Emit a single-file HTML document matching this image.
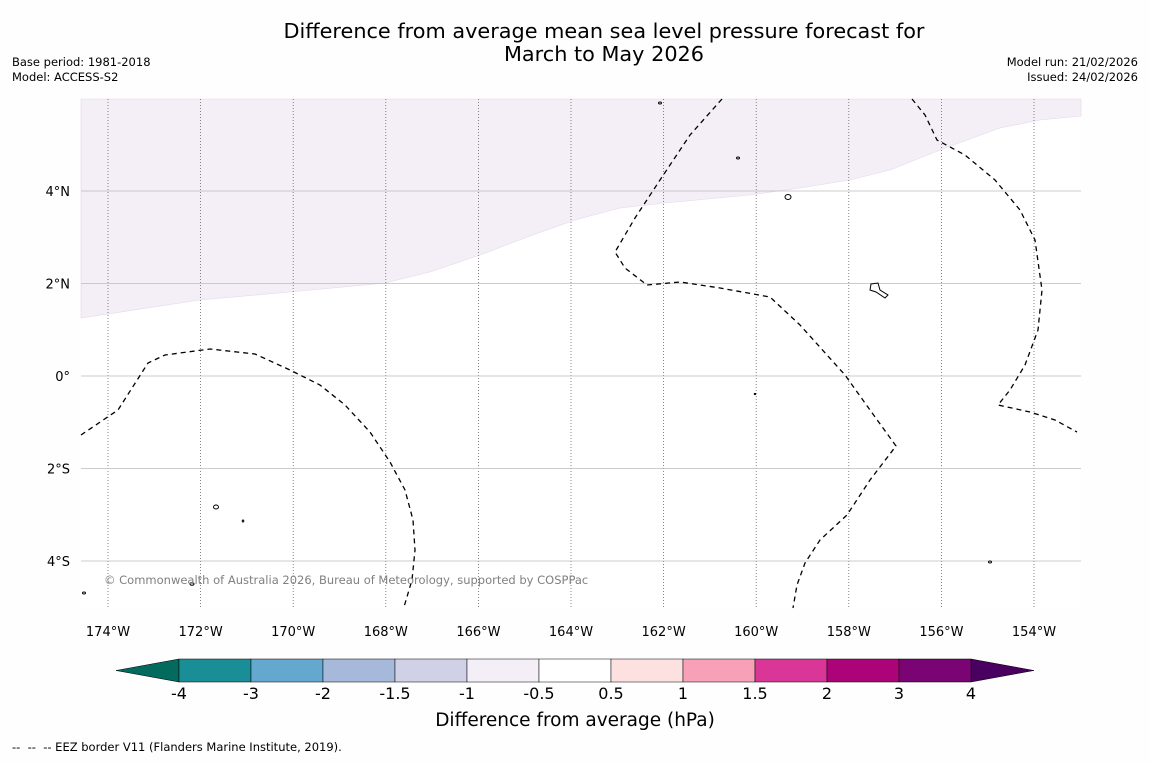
<!DOCTYPE html>
<html><head><meta charset="utf-8"><style>
body{margin:0;background:#fefefe;}
svg text{font-family:"DejaVu Sans","Liberation Sans",sans-serif;white-space:pre;}
</style></head><body>
<svg width="1150" height="758" xmlns="http://www.w3.org/2000/svg">
<rect width="1150" height="758" fill="#fefefe"/>
<text x="604" y="38" font-size="20.8" text-anchor="middle">Difference from average mean sea level pressure forecast for</text>
<text x="604" y="61" font-size="20.8" text-anchor="middle">March to May 2026</text>
<text x="12" y="66" font-size="11.5">Base period: 1981-2018</text>
<text x="12" y="81" font-size="11.5">Model: ACCESS-S2</text>
<text x="1138" y="66" font-size="11.5" text-anchor="end">Model run: 21/02/2026</text>
<text x="1138" y="81" font-size="11.5" text-anchor="end">Issued: 24/02/2026</text>
<g id="map">
<rect x="81" y="99" width="1000" height="509" fill="#ffffff"/>
<path fill="#f4eef6" stroke="#e4d8ea" stroke-width="0.6" d="M81,99 L1081,99 L1081,116 L1040,120 L1000,128 L940,150 L890,170 L850,180 L800,188 L750,195 L665,203 L620,208 L575,220 L530,236 L480,255 L430,272 L385,283 L290,292 L200,300 L81,318 Z"/>
<g id="grid"></g>
<path fill="none" stroke="#000" stroke-width="1.3" stroke-dasharray="5,4" d="M81,435 L118,410 L148,363 L165,355 L210,349 L255,354 L290,370 L320,385 L345,405 L370,432 L390,462 L405,490 L413,520 L415,550 L412,580 L404,607"/>
<path fill="none" stroke="#000" stroke-width="1.3" stroke-dasharray="5,4" d="M722,99 L690,135 L660,180 L635,218 L615,252 L625,268 L647,285 L680,282 L720,288 L770,297 L800,325 L845,375 L870,410 L896,446 L870,480 L847,515 L820,540 L805,563 L797,585 L793,608"/>
<path fill="none" stroke="#000" stroke-width="1.3" stroke-dasharray="5,4" d="M912,99 L925,115 L937,140 L965,155 L995,180 L1020,210 L1035,240 L1042,290 L1038,330 L1025,365 L1010,390 L998,405 L1030,412 L1055,420 L1077,432"/>
<g fill="none" stroke="#000" stroke-width="1">
<ellipse cx="660" cy="103" rx="1.5" ry="1"/><ellipse cx="738" cy="158" rx="1.5" ry="1"/>
<ellipse cx="788" cy="197" rx="3" ry="2.5"/><path d="M871,284 L878,283 L880,290 L888,295 L885,298 L876,292 L870,290 Z"/>
<ellipse cx="216" cy="507" rx="2.5" ry="2"/><ellipse cx="243" cy="521" rx="0.8" ry="1"/>
<ellipse cx="192" cy="584" rx="2" ry="1.2"/><ellipse cx="84" cy="593" rx="1.5" ry="1"/>
<ellipse cx="990" cy="562" rx="1.5" ry="1"/><ellipse cx="755" cy="394" rx="0.8" ry="0.6"/>
</g>
<text x="104" y="584" font-size="11.5" fill="#808080">© Commonwealth of Australia 2026, Bureau of Meteorology, supported by COSPPac</text>
</g>
<g id="axes"></g>
<g id="cbar"></g>
<text x="575" y="726" font-size="18.5" text-anchor="middle">Difference from average (hPa)</text>
<text x="12" y="751" font-size="11.5">--  --  -- EEZ border V11 (Flanders Marine Institute, 2019).</text>
</svg>
<script>
const lonTicks=[-174,-172,-170,-168,-166,-164,-162,-160,-158,-156,-154];
const latTicks=[4,2,0,-2,-4];
const cbarBounds=[-4,-3,-2,-1.5,-1,-0.5,0.5,1,1.5,2,3,4];
const cbarLabels=["-4","-3","-2","-1.5","-1","-0.5","0.5","1","1.5","2","3","4"];
const cbarColors=["#1a8e96","#64a8d0","#a6b9da","#d0d0e6","#f4eef6","#ffffff","#fde0e0","#f8a0b8","#da3698","#ac0478","#7a0474"];
const NS="http://www.w3.org/2000/svg";
const xLon=l=>108+(l+174)*46.3;
const yLat=l=>376-l*46.25;
function mk(t,a,p){const e=document.createElementNS(NS,t);for(const k in a)e.setAttribute(k,a[k]);p.appendChild(e);return e;}
const grid=document.getElementById('grid'),axes=document.getElementById('axes'),cb=document.getElementById('cbar');
lonTicks.forEach(l=>{const x=xLon(l);
 const g=mk('line',{x1:x,x2:x,y1:99,y2:608,stroke:'#666','stroke-width':0.8,'stroke-dasharray':'1,2'},grid);
 
 
 const t=mk('text',{x:x,y:636,'font-size':13,'text-anchor':'middle'},axes);t.textContent=Math.abs(l)+'°W';
 
 
});
latTicks.forEach(l=>{const y=yLat(l);
 const g=mk('line',{x1:81,x2:1081,y1:y,y2:y,stroke:'#bbb','stroke-width':0.8},grid);
 
 
 const t=mk('text',{x:70,y:y+5,'font-size':13,'text-anchor':'end'},axes);t.textContent=l===0?'0°':Math.abs(l)+'°'+(l>0?'N':'S');
 
 
});
const cx=v=>{const i=cbarBounds.indexOf(v);return 179+i*72;};
const y0=659,y1=682;
const lo=mk('polygon',{points:`179,${y0} 116,${(y0+y1)/2} 179,${y1}`,fill:'#036a5e',stroke:'#000','stroke-width':0.5},cb);


const hi=mk('polygon',{points:`971,${y0} 1034,${(y0+y1)/2} 971,${y1}`,fill:'#4a0060',stroke:'#000','stroke-width':0.5},cb);


cbarColors.forEach((c,i)=>{const x=cx(cbarBounds[i]),w=cx(cbarBounds[i+1])-x;
 const r=mk('rect',{x:x,y:y0,width:w,height:y1-y0,fill:c,stroke:'#000','stroke-width':0.5},cb);
 
 
});
cbarBounds.forEach((b,i)=>{const t=mk('text',{x:cx(b),y:699,'font-size':16,'text-anchor':'middle'},cb);t.textContent=cbarLabels[i];
 
 
});
</script>
</body></html>
